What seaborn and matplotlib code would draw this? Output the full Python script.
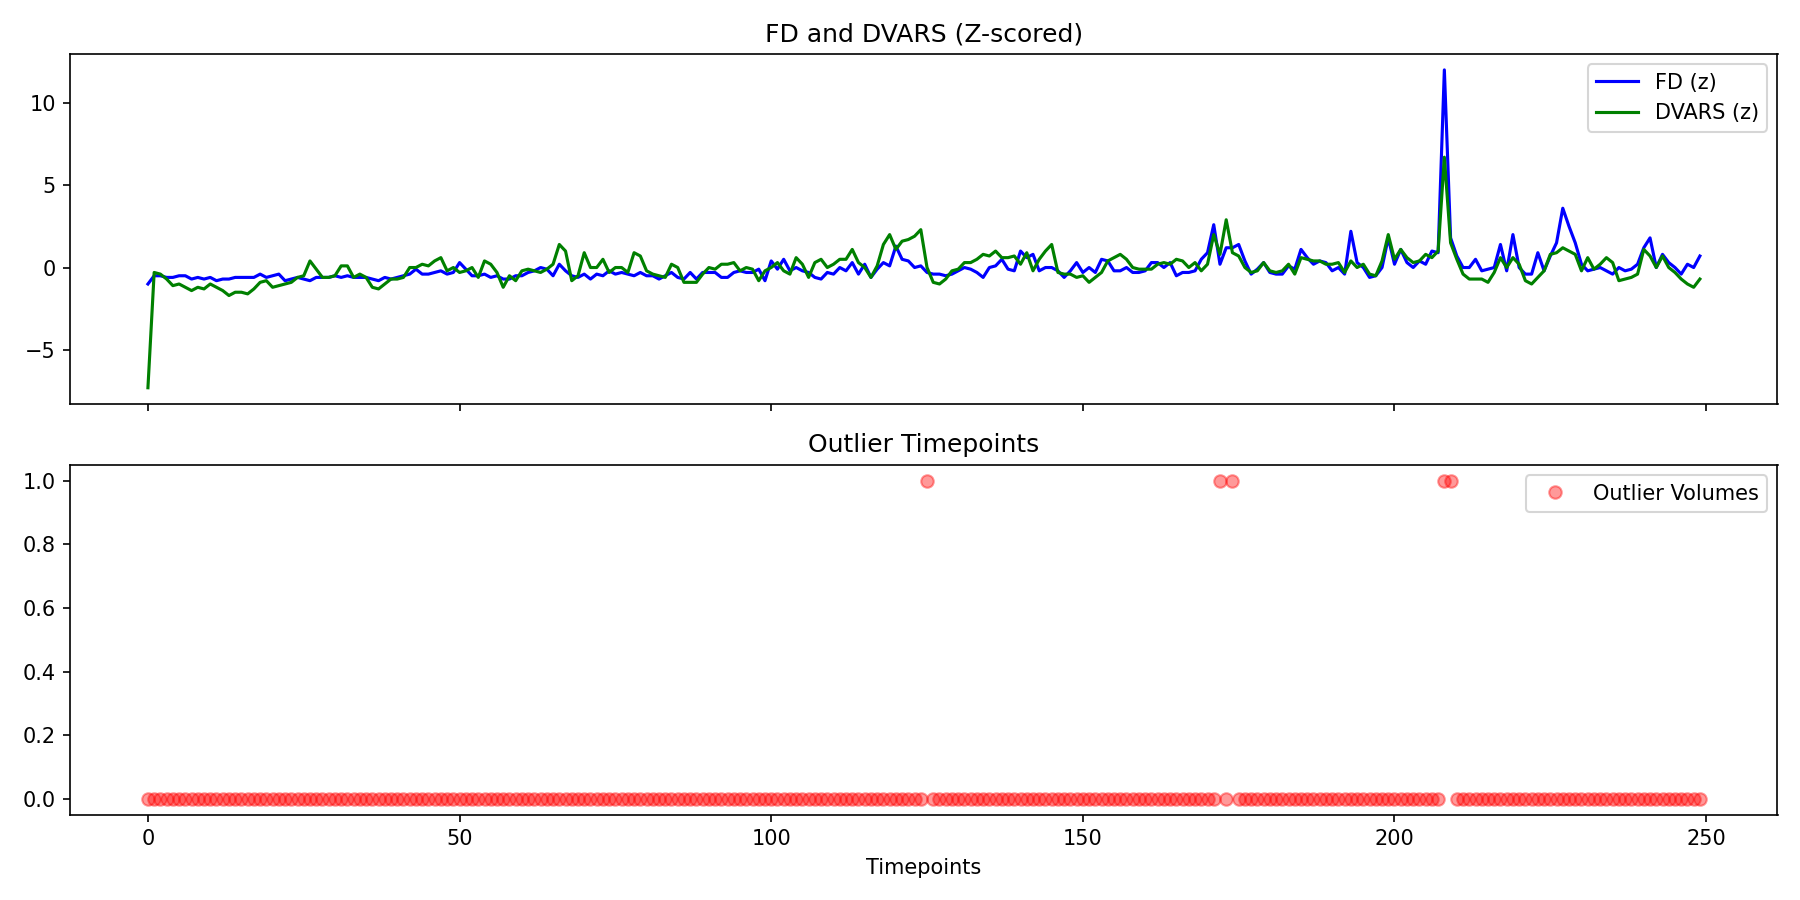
import numpy as np
import pandas as pd
import seaborn as sns
import matplotlib.pyplot as plt

fd_z = [
    -1.0, -0.5, -0.5, -0.6, -0.6, -0.5, -0.5, -0.7, -0.6, -0.7,
    -0.6, -0.8, -0.7, -0.7, -0.6, -0.6, -0.6, -0.6, -0.4, -0.6,
    -0.5, -0.4, -0.8, -0.7, -0.6, -0.7, -0.8, -0.6, -0.6, -0.6,
    -0.5, -0.6, -0.5, -0.6, -0.6, -0.6, -0.7, -0.8, -0.6, -0.7,
    -0.6, -0.5, -0.4, -0.1, -0.4, -0.4, -0.3, -0.2, -0.4, -0.3,
    0.3, -0.1, -0.5, -0.5, -0.4, -0.6, -0.5, -0.7, -0.7, -0.5,
    -0.5, -0.3, -0.2, 0.0, -0.1, -0.5, 0.2, -0.2, -0.5, -0.6,
    -0.4, -0.7, -0.4, -0.5, -0.2, -0.4, -0.3, -0.4, -0.5, -0.3,
    -0.5, -0.5, -0.7, -0.5, -0.3, -0.6, -0.7, -0.3, -0.7, -0.3,
    -0.3, -0.3, -0.6, -0.6, -0.3, -0.2, -0.3, -0.3, -0.1, -0.8,
    0.4, -0.1, 0.5, -0.2, 0.0, -0.2, -0.3, -0.6, -0.7, -0.3,
    -0.4, 0.0, -0.2, 0.3, -0.4, 0.2, -0.6, -0.1, 0.3, 0.1,
    1.3, 0.5, 0.4, 0.0, 0.1, -0.3, -0.4, -0.4, -0.5, -0.4,
    -0.2, 0.0, -0.1, -0.3, -0.6, 0.0, 0.1, 0.5, -0.1, -0.2,
    1.0, 0.6, 0.8, -0.2, 0.0, 0.0, -0.2, -0.6, -0.2, 0.3,
    -0.3, 0.0, -0.3, 0.5, 0.4, -0.2, -0.2, 0.0, -0.3, -0.3,
    -0.2, 0.3, 0.3, 0.0, 0.3, -0.5, -0.3, -0.3, -0.2, 0.5,
    0.9, 2.6, 0.2, 1.2, 1.2, 1.4, 0.4, -0.4, -0.1, 0.3,
    -0.3, -0.4, -0.4, 0.1, -0.1, 1.1, 0.6, 0.2, 0.4, 0.3,
    -0.2, 0.0, -0.4, 2.2, 0.3, 0.0, -0.6, -0.5, 0.0, 1.8,
    0.2, 1.1, 0.3, 0.0, 0.4, 0.2, 1.0, 0.9, 12.0, 1.8,
    0.7, 0.0, 0.0, 0.5, -0.2, -0.1, 0.0, 1.4, -0.2, 2.0,
    0.0, -0.4, -0.4, 0.9, -0.2, 0.7, 1.5, 3.6, 2.5, 1.5,
    0.2, -0.2, -0.1, 0.0, -0.2, -0.4, 0.0, -0.2, -0.1, 0.2,
    1.2, 1.8, 0.0, 0.8, 0.3, 0.0, -0.4, 0.2, 0.0, 0.7,
]
dvars_z = [
    -7.3, -0.3, -0.4, -0.7, -1.1, -1.0, -1.2, -1.4, -1.2, -1.3,
    -1.0, -1.2, -1.4, -1.7, -1.5, -1.5, -1.6, -1.3, -0.9, -0.8,
    -1.2, -1.1, -1.0, -0.9, -0.6, -0.5, 0.4, -0.1, -0.6, -0.6,
    -0.5, 0.1, 0.1, -0.6, -0.4, -0.6, -1.2, -1.3, -1.0, -0.7,
    -0.7, -0.6, 0.0, 0.0, 0.2, 0.1, 0.4, 0.6, -0.2, 0.0,
    -0.3, -0.2, 0.0, -0.6, 0.4, 0.2, -0.3, -1.2, -0.5, -0.8,
    -0.2, -0.1, -0.2, -0.3, -0.1, 0.2, 1.4, 1.0, -0.8, -0.5,
    0.9, 0.0, 0.0, 0.5, -0.3, 0.0, 0.0, -0.3, 0.9, 0.7,
    -0.2, -0.4, -0.5, -0.6, 0.2, 0.0, -0.9, -0.9, -0.9, -0.4,
    0.0, -0.1, 0.2, 0.2, 0.3, -0.2, 0.0, -0.1, -0.8, -0.2,
    0.0, 0.3, -0.2, -0.4, 0.6, 0.2, -0.6, 0.3, 0.5, 0.0,
    0.2, 0.5, 0.5, 1.1, 0.3, 0.0, -0.6, 0.1, 1.4, 2.0,
    1.1, 1.6, 1.7, 1.9, 2.3, 0.0, -0.9, -1.0, -0.7, -0.2,
    -0.1, 0.3, 0.3, 0.5, 0.8, 0.7, 1.0, 0.6, 0.6, 0.7,
    0.2, 0.9, -0.2, 0.5, 1.0, 1.4, -0.3, -0.4, -0.4, -0.6,
    -0.5, -0.9, -0.6, -0.3, 0.4, 0.6, 0.8, 0.5, 0.0, -0.1,
    -0.1, -0.1, 0.2, 0.3, 0.2, 0.5, 0.4, 0.0, 0.3, -0.2,
    0.2, 2.0, 0.8, 2.9, 0.9, 0.7, 0.0, -0.3, -0.2, 0.3,
    -0.2, -0.3, -0.2, 0.2, -0.4, 0.6, 0.5, 0.4, 0.4, 0.2,
    0.2, 0.3, -0.3, 0.4, 0.0, 0.2, -0.4, -0.5, 0.4, 2.0,
    0.5, 1.1, 0.6, 0.3, 0.4, 0.8, 0.6, 1.0, 6.7, 1.5,
    0.5, -0.4, -0.7, -0.7, -0.7, -0.9, -0.3, 0.6, 0.0, 0.6,
    0.2, -0.8, -1.0, -0.6, -0.2, 0.8, 0.9, 1.2, 1.0, 0.8,
    -0.2, 0.6, -0.1, 0.2, 0.6, 0.3, -0.8, -0.7, -0.6, -0.4,
    1.1, 0.7, 0.0, 0.7, 0.0, -0.3, -0.7, -1.0, -1.2, -0.7,
]
outlier_idx = [125, 172, 174, 208, 209]

t = np.arange(len(fd_z))
outliers = np.zeros(len(t))
outliers[outlier_idx] = 1
df = pd.DataFrame({'t': t, 'fd': fd_z, 'dvars': dvars_z, 'out': outliers})

fig, (ax1, ax2) = plt.subplots(2, 1, figsize=(12, 6), sharex=True, dpi=150)

sns.lineplot(data=df, x='t', y='fd', ax=ax1, color='blue', label='FD (z)')
sns.lineplot(data=df, x='t', y='dvars', ax=ax1, color='green', label='DVARS (z)')
ax1.set_title('FD and DVARS (Z-scored)')
ax1.set_xlabel('')
ax1.set_ylabel('')
ax1.legend(loc='upper right')

ax2.plot(df['t'], df['out'], 'o', color='red', alpha=0.4, label='Outlier Volumes')
ax2.set_title('Outlier Timepoints')
ax2.set_xlabel('Timepoints')
ax2.legend(loc='upper right')

plt.tight_layout()
plt.savefig('out.png')
